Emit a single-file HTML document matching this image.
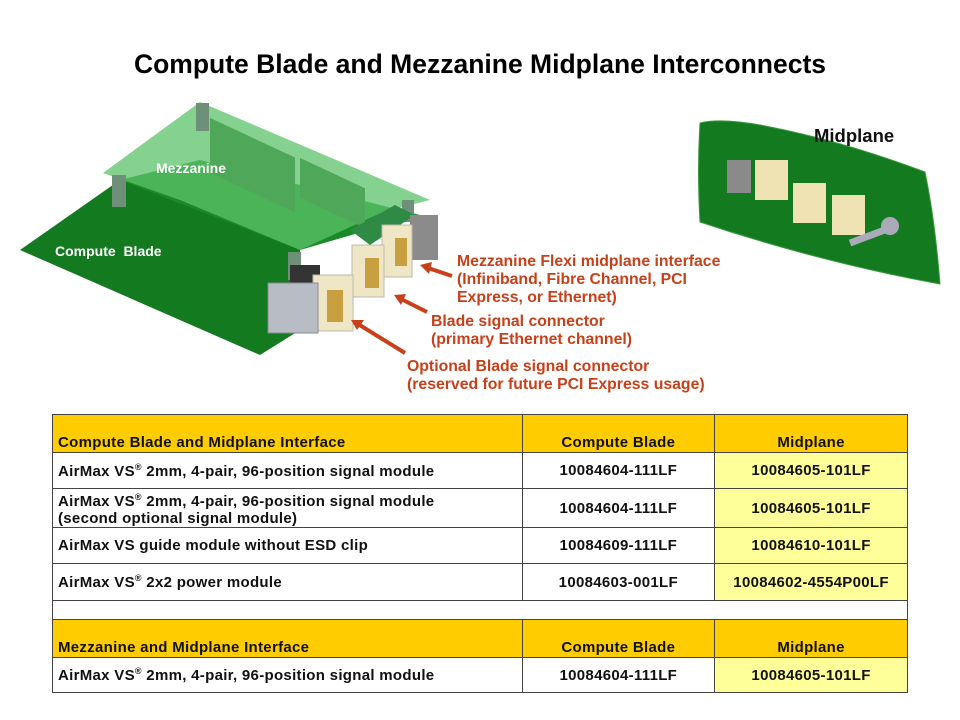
<!DOCTYPE html>
<html><head><meta charset="utf-8"><style>
body{margin:0;width:960px;height:720px;background:#fff;position:relative;overflow:hidden;font-family:"Liberation Sans",sans-serif}
.t{position:absolute;font-weight:bold}
.lab{position:absolute;color:#c8401a;font-weight:bold;font-size:15.8px;line-height:18px;white-space:nowrap}
table{position:absolute;left:52px;top:414px;border-collapse:collapse;width:856px}
td{border:1.5px solid #444;font-weight:bold;font-size:15px;color:#111;padding:0 5px;letter-spacing:0.3px;white-space:nowrap}
.h td{background:#ffcc00;vertical-align:bottom;padding-bottom:1px}
.c{text-align:center}
.y{background:#ffff99}
sup{font-size:9px}
</style></head><body>
<div class="t" style="left:0;width:960px;text-align:center;top:49px;font-size:26.5px">Compute Blade and Mezzanine Midplane Interconnects</div>
<svg width="960" height="410" style="position:absolute;left:0;top:0">
<polygon points="20,250 120,180 300,240 300,330 260,355" fill="#137a1f"/>
<polygon points="120,180 200,160 420,215 300,250" fill="#1a8a28"/>
<polygon points="103,173 200,102 430,200 383,212 300,250 180,200" fill="#5cc26a" opacity="0.75"/>
<rect x="210" y="118" width="85" height="55" fill="#4fa85a" transform="skewY(25) translate(0,-98)"/>
<rect x="300" y="158" width="65" height="40" fill="#4fa85a" transform="skewY(25) translate(0,-140)"/>
<rect x="112" y="175" width="14" height="32" fill="#6e8f78"/>
<rect x="196" y="103" width="13" height="28" fill="#6e8f78"/>
<rect x="402" y="200" width="12" height="22" fill="#6e8f78"/>
<rect x="288" y="252" width="13" height="28" fill="#6e8f78"/>
<polygon points="350,230 395,205 415,215 370,245" fill="#2f8a45"/>
<rect x="290" y="265" width="30" height="25" fill="#333"/>
<rect x="410" y="215" width="28" height="45" fill="#8b8b8b"/>
<rect x="382" y="225" width="30" height="52" fill="#efe6c6" stroke="#bba"/>
<rect x="352" y="245" width="32" height="52" fill="#efe6c6" stroke="#bba"/>
<rect x="313" y="275" width="40" height="56" fill="#efe6c6" stroke="#bba"/>
<rect x="395" y="238" width="12" height="28" fill="#c8a040"/>
<rect x="365" y="258" width="14" height="30" fill="#c8a040"/>
<rect x="327" y="290" width="16" height="32" fill="#c8a040"/>
<rect x="268" y="283" width="50" height="50" fill="#b8bcc4" stroke="#889"/>
<g stroke="#c8401a" stroke-width="4" fill="#c8401a">
<line x1="452" y1="276" x2="428" y2="268"/>
<line x1="427" y1="312" x2="401" y2="299"/>
<line x1="405" y1="353" x2="358" y2="324"/>
</g>
<g fill="#c8401a">
<polygon points="420,265 432,262 429,274"/>
<polygon points="394,295 406,294 401,305"/>
<polygon points="351,320 364,320 357,330"/>
</g>
<path d="M700,123 Q720,118 760,125 Q840,140 925,172 Q935,220 940,284 Q820,262 700,222 Q697,170 700,123Z" fill="#137a1f" stroke="#3a9a3a"/>
<rect x="727" y="160" width="24" height="33" fill="#8a8a8a"/>
<rect x="755" y="160" width="33" height="40" fill="#efe3b4"/>
<rect x="793" y="183" width="33" height="40" fill="#efe3b4"/>
<rect x="832" y="195" width="33" height="40" fill="#efe3b4"/>
<line x1="850" y1="243" x2="890" y2="228" stroke="#aab" stroke-width="7"/>
<circle cx="890" cy="226" r="9" fill="#aab"/>
</svg>
<div class="t" style="left:156px;top:160px;font-size:14px;color:#fff">Mezzanine</div>
<div class="t" style="left:55px;top:243px;font-size:14px;color:#fff">Compute&nbsp; Blade</div>
<div class="t" style="left:814px;top:125px;font-size:18.5px;color:#111">Midplane</div>
<div class="lab" style="left:457px;top:253px">Mezzanine Flexi midplane interface<br>(Infiniband, Fibre Channel, PCI<br>Express, or Ethernet)</div>
<div class="lab" style="left:431px;top:313px">Blade signal connector<br>(primary Ethernet channel)</div>
<div class="lab" style="left:407px;top:358px">Optional Blade signal connector<br>(reserved for future PCI Express usage)</div>
<table>
<colgroup><col style="width:470px"><col style="width:193px"><col style="width:193px"></colgroup>
<tr class="h" style="height:38px"><td>Compute Blade and Midplane Interface</td><td class="c">Compute Blade</td><td class="c">Midplane</td></tr>
<tr style="height:36px"><td>AirMax VS<sup>®</sup> 2mm, 4-pair, 96-position signal module</td><td class="c">10084604-111LF</td><td class="c y">10084605-101LF</td></tr>
<tr style="height:39px"><td style="line-height:17px">AirMax VS<sup>®</sup> 2mm, 4-pair, 96-position signal module<br>(second optional signal module)</td><td class="c">10084604-111LF</td><td class="c y">10084605-101LF</td></tr>
<tr style="height:36px"><td>AirMax VS guide module without ESD clip</td><td class="c">10084609-111LF</td><td class="c y">10084610-101LF</td></tr>
<tr style="height:37px"><td>AirMax VS<sup>®</sup> 2x2 power module</td><td class="c">10084603-001LF</td><td class="c y">10084602-4554P00LF</td></tr>
<tr style="height:19px"><td colspan="3"></td></tr>
<tr class="h" style="height:38px"><td>Mezzanine and Midplane Interface</td><td class="c">Compute Blade</td><td class="c">Midplane</td></tr>
<tr style="height:35px"><td>AirMax VS<sup>®</sup> 2mm, 4-pair, 96-position signal module</td><td class="c">10084604-111LF</td><td class="c y">10084605-101LF</td></tr>
</table>
</body></html>
